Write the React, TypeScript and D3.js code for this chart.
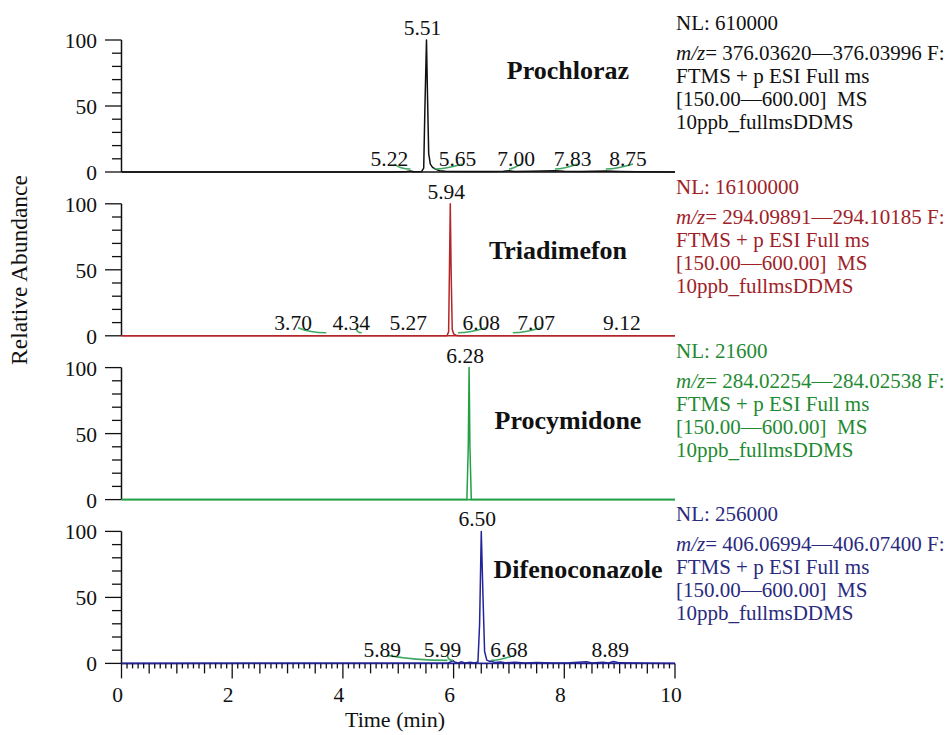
import * as d3 from 'd3';

type Pt = [number, number];

// retention time (min) vs relative abundance (%)
const prochlorazTrace: Pt[] = [
  [0, 0], [4.9, 0], [5.15, 0.3], [5.22, 0.8], [5.28, 0.2], [5.42, 0.3], [5.46, 3],
  [5.48, 45], [5.51, 100], [5.53, 55], [5.55, 14], [5.58, 6], [5.62, 3.5], [5.68, 2],
  [5.75, 1], [5.85, 0.5], [6.2, 0.3], [6.6, 0.4], [6.9, 0.5], [7.0, 1.0], [7.1, 0.4],
  [7.4, 0.6], [7.6, 0.8], [7.83, 0.9], [8.0, 0.5], [8.3, 0.4], [8.75, 0.7], [9.0, 0.4],
  [9.3, 0.2], [10, 0],
];
const triadimefonTrace: Pt[] = [
  [0, 0], [3.7, 0], [4.34, 0], [5.88, 0], [5.91, 3], [5.925, 50], [5.94, 100],
  [5.955, 50], [5.975, 5], [6.0, 1.5], [6.04, 0.5], [6.1, 0], [10, 0],
];
const procymidoneTrace: Pt[] = [
  [0, 0], [6.24, 0], [6.265, 40], [6.28, 100], [6.295, 40], [6.32, 0], [10, 0],
];
const difenoconazoleTrace: Pt[] = [
  [0, 0], [5.9, 0.3], [5.97, 1.5], [5.99, 2.2], [6.02, 1], [6.08, 0.3], [6.15, 1.2],
  [6.2, 0.3], [6.3, 0.8], [6.38, 0.3], [6.44, 1], [6.47, 30], [6.5, 100], [6.53, 52],
  [6.56, 9], [6.6, 2.5], [6.65, 1.5], [6.68, 1.8], [6.75, 0.6], [6.85, 1.1], [6.95, 0.4],
  [7.1, 0.9], [7.3, 0.3], [7.5, 0.7], [7.8, 0.3], [8.1, 0.5], [8.4, 1.2], [8.5, 0.3],
  [8.7, 0.9], [8.8, 0.3], [8.89, 1.5], [9.0, 0.4], [9.3, 0.3], [9.6, 0.2], [10, 0],
];

const compounds = ['Prochloraz', 'Triadimefon', 'Procymidone', 'Difenoconazole'];
const apexTimes = [5.51, 5.94, 6.28, 6.5];
const nlValues = ['610000', '16100000', '21600', '256000'];
const mzRanges = [
  '376.03620—376.03996',
  '294.09891—294.10185',
  '284.02254—284.02538',
  '406.06994—406.07400',
];

// minor peak annotations: [retention time, label position (min), has leader]
type Minor = [number, number, boolean];
const prochlorazMinor: Minor[] = [
  [5.22, 4.84, true], [5.65, 6.07, true], [7.0, 7.13, true], [7.83, 8.15, true], [8.75, 9.15, true],
];
const triadimefonMinor: Minor[] = [
  [3.7, 3.1, true], [4.34, 4.15, true], [5.27, 5.18, false], [6.08, 6.5, true], [7.07, 7.49, true], [9.12, 9.04, false],
];
const procymidoneMinor: Minor[] = [];
const difenoconazoleMinor: Minor[] = [
  [5.89, 4.71, true], [5.99, 5.8, true], [6.68, 7.0, true], [8.89, 8.83, false],
];

const traces = [prochlorazTrace, triadimefonTrace, procymidoneTrace, difenoconazoleTrace];
const minors = [prochlorazMinor, triadimefonMinor, procymidoneMinor, difenoconazoleMinor];

const xTickLabels = [0, 2, 4, 6, 8, 10];
const yTickLabels = [0, 50, 100];

const TRACE_COLORS = ['#111111', '#b3262a', '#23a044', '#24249a'];
const TEXT_COLORS = ['#111111', '#9e2228', '#1f8a32', '#2a2a7e'];
const LEADER = '#3fa862';
const NAME_POS: [number, number][] = [[568, -93], [558, -77], [568, -71], [578, -85]];

const FONT = '"Liberation Serif", "Times New Roman", serif';
const W = 952;
const H = 735;
const PANEL_TOP = 40;
const PANEL_STEP = 163.8;
const PANEL_H = 132;

export default function App() {
  const x = d3.scaleLinear().domain([0, 10]).range([121.5, 675]);
  const line = (y: d3.ScaleLinear<number, number>) =>
    d3.line<Pt>().x((d) => x(d[0])).y((d) => y(d[1]));

  const panels = compounds.map((name, i) => {
    const top = PANEL_TOP + i * PANEL_STEP;
    const base = top + PANEL_H;
    const y = d3.scaleLinear().domain([0, 100]).range([base, top]);
    const col = TRACE_COLORS[i];
    const tcol = TEXT_COLORS[i];
    return (
      <g key={name}>
        {/* y axis */}
        <line x1={121.5} x2={121.5} y1={y(100)} y2={y(0)} stroke="#111" strokeWidth={1.5} />
        {d3.range(0, 101, 10).map((v) => {
          const major = v % 50 === 0;
          return (
            <line key={v} x1={major ? 105 : 112} x2={121.5} y1={y(v)} y2={y(v)}
              stroke="#111" strokeWidth={1.3} />
          );
        })}
        {yTickLabels.map((v) => (
          <text key={v} x={97} y={y(v) + 8} textAnchor="end" fontSize={21.5} fill="#111">{v}</text>
        ))}
        {/* baseline + trace */}
        <line x1={121.5} x2={675} y1={base} y2={base} stroke={col} strokeWidth={1.6} />
        <path d={line(y)(traces[i]) ?? ''} fill="none" stroke={col} strokeWidth={1.5}
          strokeLinejoin="round" />
        {/* apex label */}
        <text x={x(apexTimes[i]) - 4} y={top - 5} textAnchor="middle" fontSize={21.5} fill="#111">
          {apexTimes[i].toFixed(2)}
        </text>
        {/* minor peaks */}
        {minors[i].map(([rt, at, leader]) => {
          const lx = x(at);
          const px = x(rt);
          return (
            <g key={rt}>
              {leader && (
                <path
                  d={`M${lx + 5},${base - 8} Q${(lx + px) / 2},${base - 3} ${px},${base - 3}`}
                  fill="none" stroke={LEADER} strokeWidth={1.6} />
              )}
              <text x={lx} y={base - 6} textAnchor="middle" fontSize={21.5} fill="#111">
                {rt.toFixed(2)}
              </text>
            </g>
          );
        })}
        {/* compound name */}
        <text x={NAME_POS[i][0]} y={base + NAME_POS[i][1]} textAnchor="middle" fontSize={26}
          fontWeight="bold" fill="#111">{name}</text>
        {/* scan info */}
        <g fontSize={21} fill={tcol}>
          <text x={676} y={base - 142}>NL: {nlValues[i]}</text>
          <text x={676} y={base - 112}>
            <tspan fontStyle="italic">m/z</tspan>= {mzRanges[i]} F:
          </text>
          <text x={676} y={base - 89}>FTMS + p ESI Full ms</text>
          <text x={676} y={base - 66}>{'[150.00—600.00]\u00a0 MS'}</text>
          <text x={676} y={base - 43}>10ppb_fullmsDDMS</text>
        </g>
      </g>
    );
  });

  const axisY = PANEL_TOP + 3 * PANEL_STEP + PANEL_H;
  const minorTicks = d3.range(0, 100.5, 1).map((k) => k / 10);

  return (
    <div style={{ position: 'absolute', left: 0, top: 0 }}>
      <svg width={W} height={H} style={{ display: 'block', background: '#fff' }} fontFamily={FONT}>
        <rect width={W} height={H} fill="#fff" />
        {panels}
        {/* x axis */}
        {minorTicks.map((t) => {
          const k = Math.round(t * 10);
          const len = k % 20 === 0 ? 15 : k % 5 === 0 ? 10 : 5;
          return (
            <line key={k} x1={x(t)} x2={x(t)} y1={axisY} y2={axisY + len}
              stroke="#111" strokeWidth={1.3} />
          );
        })}
        {xTickLabels.map((t) => (
          <text key={t} x={x(t) - 4} y={axisY + 39} textAnchor="middle" fontSize={21.5} fill="#111">{t}</text>
        ))}
        <text x={395} y={727} textAnchor="middle" fontSize={22} fill="#111">Time (min)</text>
        <text transform="translate(27,270) rotate(-90)" textAnchor="middle" fontSize={23.5} fill="#111">
          Relative Abundance
        </text>
      </svg>
    </div>
  );
}
